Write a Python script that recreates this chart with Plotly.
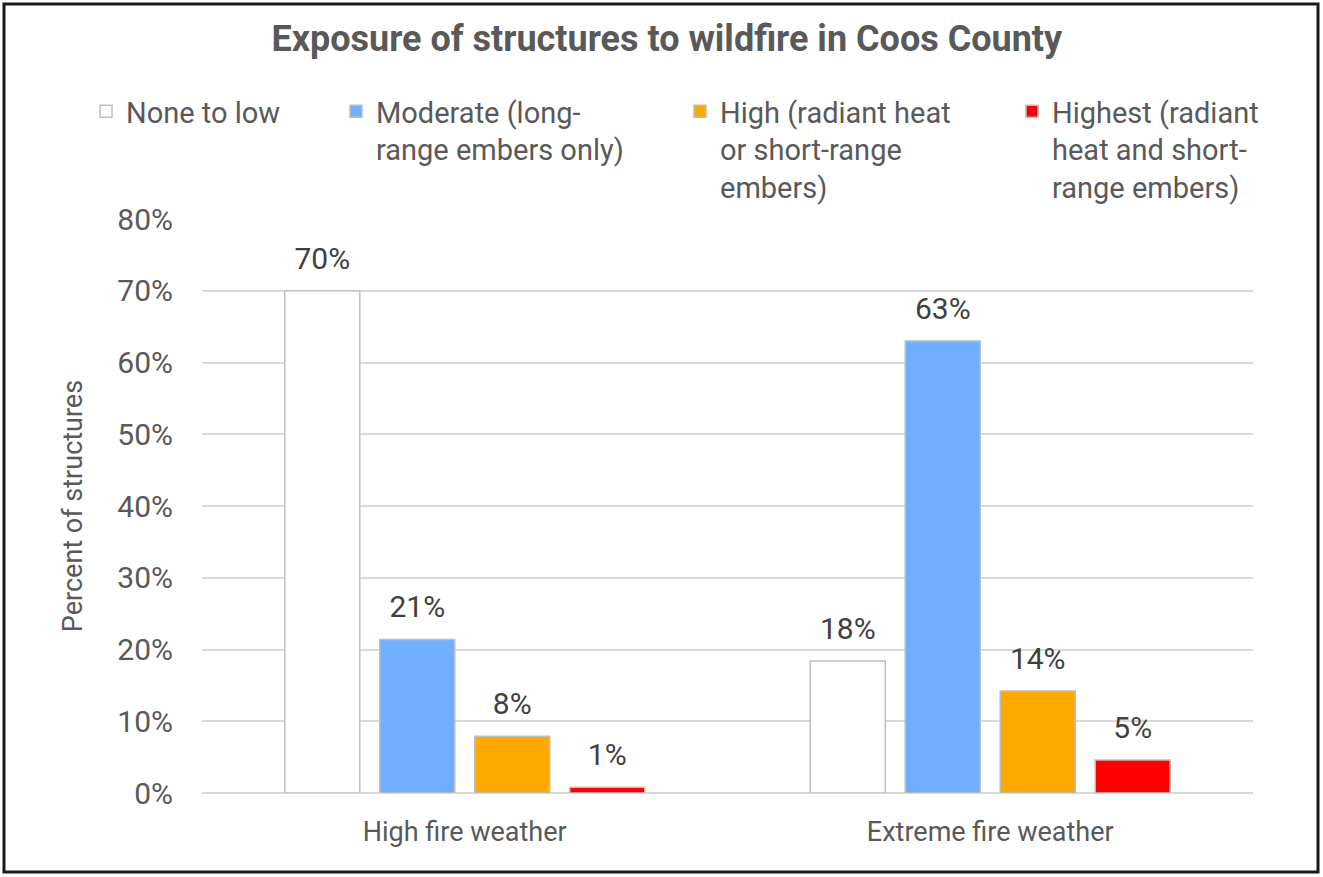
import plotly.graph_objects as go

categories = ["High fire weather", "Extreme fire weather"]
series_names = [
    "None to low",
    "Moderate (long-<br>range embers only)",
    "High (radiant heat<br>or short-range<br>embers)",
    "Highest (radiant<br>heat and short-<br>range embers)",
]
none_low = [70.0, 18.4]
moderate = [21.4, 63.0]
high = [7.9, 14.2]
highest = [0.8, 4.6]
colors = ["#FFFFFF", "#70AEFF", "#FFA800", "#FF0000"]
y_ticks = [0, 10, 20, 30, 40, 50, 60, 70, 80]
y_tick_labels = ["0%", "10%", "20%", "30%", "40%", "50%", "60%", "70%", "80%"]

W, H = 1323, 877
ML, MR, MT, MB = 202, 70, 219, 84
PW, PH = W - ML - MR, H - MT - MB

FONT = "Roboto, Arial, sans-serif"
TXT = "#595959"
LABEL_PAD = 1.7  # label lift above bar top, in axis units (style offset)

def px_x(x):
    return (x - ML) / PW

def px_y(y):
    return (H - MB - y) / PH

fig = go.Figure()
legend_pos = [106, 356, 700, 1032]
all_vals = [none_low, moderate, high, highest]
for i, (name, vals) in enumerate(zip(series_names, all_vals)):
    lg = "legend" if i == 0 else f"legend{i+1}"
    fig.add_trace(go.Bar(
        x=categories, y=vals, name=name, offsetgroup=str(i),
        marker=dict(color=colors[i], line=dict(color="#BFBFBF", width=1.5)),
        legend=lg, hoverinfo="x+y",
    ))
    # transparent carrier for the data label, sitting on top of the bar
    fig.add_trace(go.Bar(
        x=categories, y=[LABEL_PAD] * len(vals), base=vals, offsetgroup=str(i),
        marker=dict(color="rgba(0,0,0,0)", line=dict(width=0)),
        text=[f"{v:.0f}%" for v in vals], textposition="outside",
        textfont=dict(family=FONT, size=30, color="#404040"),
        cliponaxis=False, showlegend=False, hoverinfo="skip", legend=lg,
    ))

legend_common = dict(
    font=dict(family=FONT, size=29, color=TXT),
    bgcolor="rgba(0,0,0,0)", xanchor="left", yanchor="top",
    valign="top", tracegroupgap=0, itemclick=False,
)
layout_legends = {}
for i, xp in enumerate(legend_pos):
    key = "legend" if i == 0 else f"legend{i+1}"
    layout_legends[key] = dict(x=px_x(xp - 20), y=px_y(86), **legend_common)

fig.update_layout(
    width=W, height=H,
    margin=dict(l=ML, r=MR, t=MT, b=MB),
    paper_bgcolor="white", plot_bgcolor="white",
    barmode="group", bargap=0.277, bargroupgap=0.21,
    title=dict(
        text="<b>Exposure of structures to wildfire in Coos County</b>",
        font=dict(family=FONT, size=36, color=TXT),
        x=0.504, xanchor="center", xref="container",
        y=1 - 38 / H, yanchor="middle", yref="container",
    ),
    xaxis=dict(
        tickfont=dict(family=FONT, size=27, color=TXT),
        showgrid=False, showline=False, ticks="", ticklabelstandoff=20,
    ),
    yaxis=dict(
        range=[0, 80], tickmode="array", tickvals=y_ticks, ticktext=y_tick_labels,
        tickfont=dict(family=FONT, size=30, color=TXT),
        gridcolor="#D9D9D9", gridwidth=1.5, zeroline=True,
        zerolinecolor="#D9D9D9", zerolinewidth=1.5,
        showline=False, ticks="", ticklabelstandoff=28,
        title=dict(text="Percent of structures",
                   font=dict(family=FONT, size=27, color=TXT), standoff=26),
    ),
    showlegend=True,
    **layout_legends,
)

fig.add_shape(
    type="rect", xref="paper", yref="paper",
    x0=px_x(4), x1=px_x(W - 5), y0=px_y(H - 5), y1=px_y(4),
    line=dict(color="#1A1A1A", width=3), fillcolor="rgba(0,0,0,0)", layer="above",
)

fig.write_html("out.html")
